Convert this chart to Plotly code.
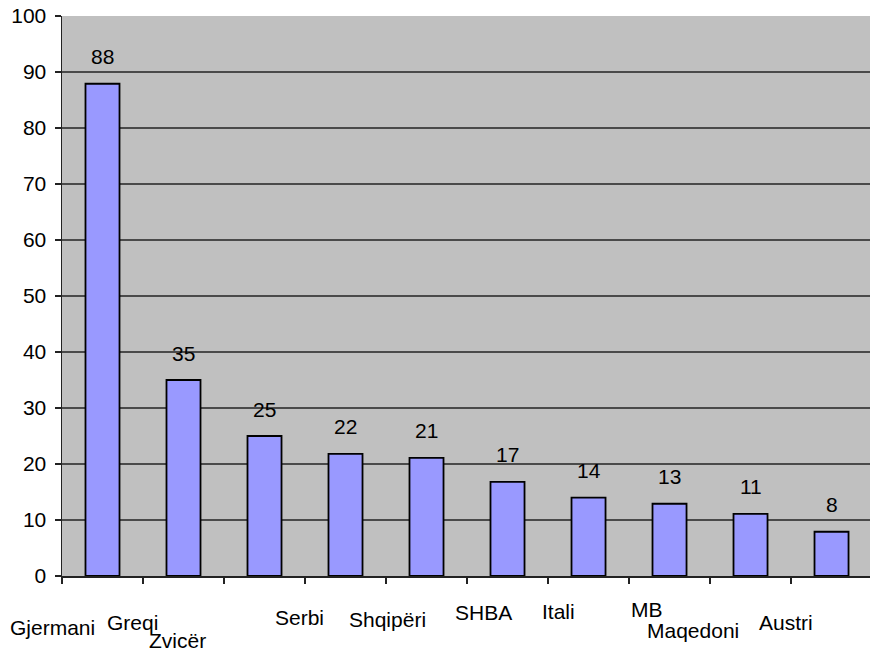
import plotly.graph_objects as go

countries = ["Gjermani", "Greqi", "Zvicër", "Serbi", "Shqipëri",
             "SHBA", "Itali", "MB", "Maqedoni", "Austri"]
values = [87.9, 35.0, 25.0, 21.8, 21.1, 16.8, 14.0, 12.9, 11.1, 7.9]
value_labels = ["88", "35", "25", "22", "21", "17", "14", "13", "11", "8"]
y_ticks = [0, 10, 20, 30, 40, 50, 60, 70, 80, 90, 100]

# label placement offsets (pixels) relative to category centre / plot bottom
label_dx = [-50.5, -51.5, -87, -46, -39, -24.5, -30.5, -23, -57.5, -46]
label_dy = [-51, -46, -64, -41, -43, -36.5, -35, -33, -54, -46]

FONT = "Liberation Sans, Arial, sans-serif"

fig = go.Figure()
fig.add_trace(go.Bar(
    x=countries, y=values, width=0.42,
    marker=dict(color="#9999FF", line=dict(color="black", width=1.8)),
    hoverinfo="skip",
))

annotations = []
for c, v, t in zip(countries, values, value_labels):
    annotations.append(dict(x=c, y=v, xref="x", yref="y", text=t,
                            showarrow=False, yanchor="middle", yshift=27,
                            font=dict(family=FONT, size=21, color="black")))
for c, dx, dy in zip(countries, label_dx, label_dy):
    annotations.append(dict(x=c, y=0, xref="x", yref="paper", text=c,
                            showarrow=False, yanchor="middle", xanchor="center",
                            xshift=dx, yshift=dy,
                            font=dict(family=FONT, size=21, color="black")))

fig.update_layout(
    width=870, height=652,
    margin=dict(l=62, r=0, t=16, b=76),
    paper_bgcolor="white", plot_bgcolor="#C0C0C0",
    showlegend=False,
    annotations=annotations,
    font=dict(family=FONT, color="black"),
)
fig.update_xaxes(
    type="category", range=[-0.5, 9.475], automargin=False,
    tickson="boundaries", ticks="outside", ticklen=6, tickcolor="#222222",
    tickwidth=1.3,
    showticklabels=False, showgrid=False,
    showline=True, linecolor="#222222", linewidth=1.5,
)
fig.update_yaxes(
    range=[0, 100], tickvals=y_ticks, automargin=False,
    ticks="outside", ticklen=6, tickcolor="#222222", tickwidth=1.3,
    tickfont=dict(family=FONT, size=21, color="black"),
    ticklabelstandoff=4, ticklabeloverflow="allow",
    showgrid=True, gridcolor="#4a4a4a", gridwidth=1.4,
    showline=True, linecolor="#222222", linewidth=1.5,
    zeroline=False,
)

fig.write_html(
    "out.html",
    config={"displayModeBar": False, "staticPlot": True},
    post_script="document.body.style.margin='0';document.body.style.overflow='hidden';",
)
